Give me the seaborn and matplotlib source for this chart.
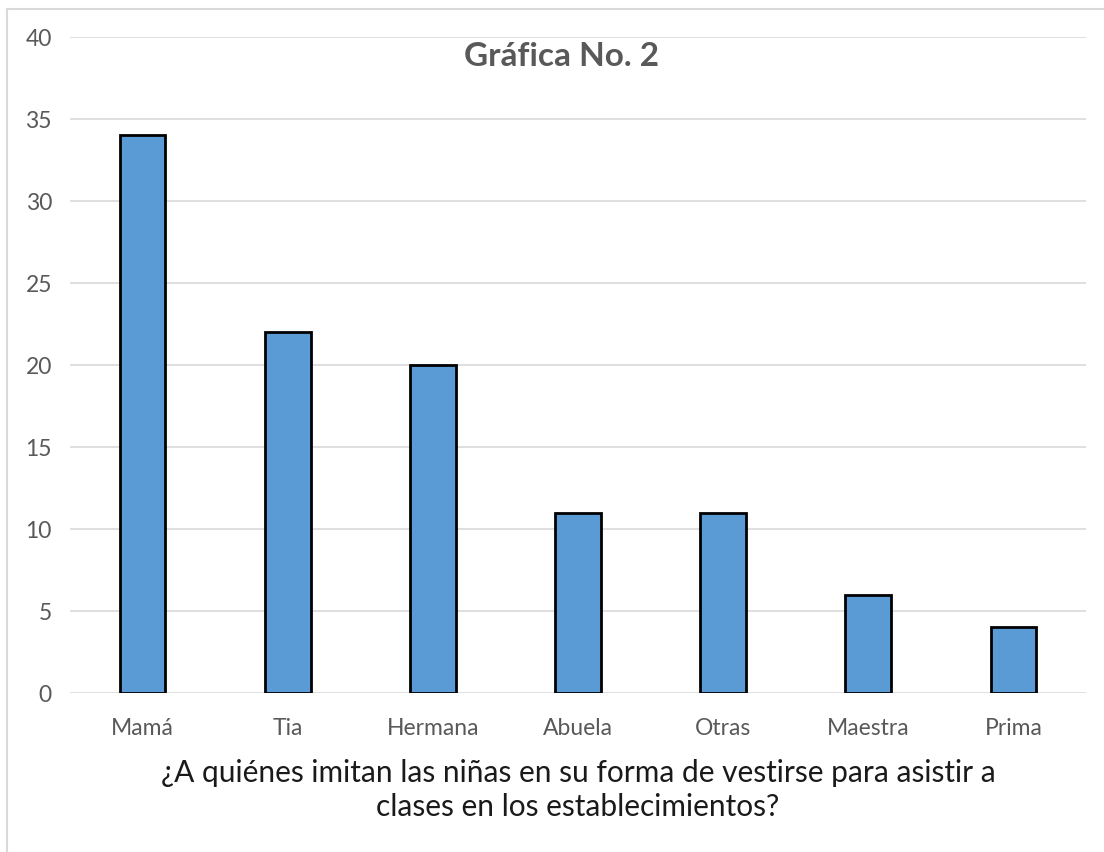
import matplotlib
matplotlib.use("Agg")
import matplotlib.pyplot as plt
import seaborn as sns
import pandas as pd

categories = ["Mamá", "Tia", "Hermana", "Abuela", "Otras", "Maestra", "Prima"]
values = [34, 22, 20, 11, 11, 6, 4]
yticks = [0, 5, 10, 15, 20, 25, 30, 35, 40]
title = "Gráfica No. 2"
xlabel = "¿A quiénes imitan las niñas en su forma de vestirse para asistir a\nclases en los establecimientos?"

sns.set_theme(style="white")
plt.rcParams['font.family'] = ['Lato', 'DejaVu Sans']

df = pd.DataFrame({"cat": categories, "val": values})

fig = plt.figure(figsize=(11.04, 8.53), dpi=100)
ax = fig.add_axes([70/1104, 1-694/853, (1086-70)/1104, (694-38)/853])

sns.barplot(data=df, x="cat", y="val", ax=ax, color="#5b9bd5", saturation=1,
            width=0.315, edgecolor="black", linewidth=2, zorder=3)

ax.set_ylim(0, 40)
ax.set_xlim(-0.5, len(categories) - 0.5)
ax.set_yticks(yticks)
ax.yaxis.grid(True, color="#d9d9d9", linewidth=1.2, zorder=0)
ax.set_axisbelow(True)
for s in ax.spines.values():
    s.set_visible(False)
ax.tick_params(axis="both", length=0, labelsize=16.5, labelcolor="#595959")
ax.tick_params(axis="y", pad=13)
ax.tick_params(axis="x", pad=17)
ax.set_ylabel("")
ax.set_xlabel(xlabel, fontsize=21.5, color="#1a1a1a", labelpad=15, linespacing=1.25)

ax.text((561-70)/1016, 1 - (57-38)/656, title, transform=ax.transAxes, ha="center", va="center",
        fontsize=24, fontweight="bold", color="#595959")

# outer border (chart area frame)
fig.add_artist(plt.Line2D([7/1104, 7/1104], [0, 1-10/853], transform=fig.transFigure,
                          color="#d9d9d9", linewidth=1.5))
fig.add_artist(plt.Line2D([7/1104, 1], [1-10/853, 1-10/853], transform=fig.transFigure,
                          color="#d9d9d9", linewidth=1.5))

fig.savefig("out.png", dpi=100)
